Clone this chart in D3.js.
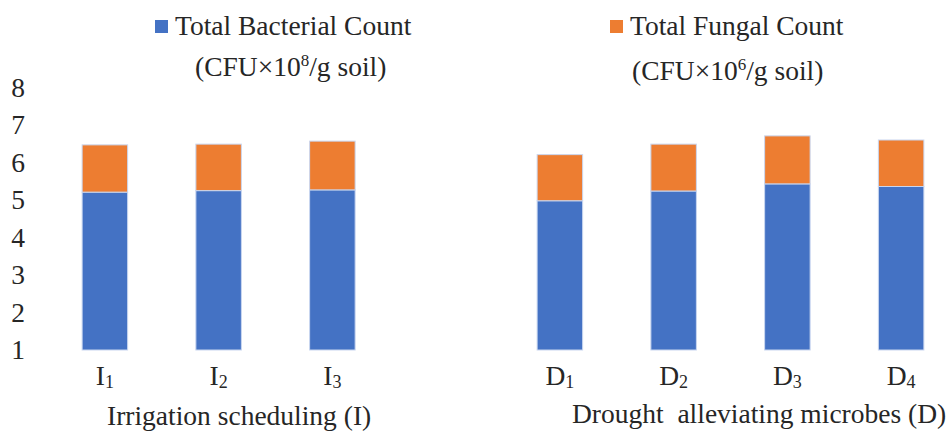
<!DOCTYPE html>
<html>
<head>
<meta charset="utf-8">
<script src="https://cdn.jsdelivr.net/npm/d3@7"></script>
<style>
  body { margin: 0; background: #fff; }
  svg text { font-family: "Liberation Serif", "Times New Roman", serif; fill: #262626; }
</style>
</head>
<body>
<svg id="chart"></svg>
<script>
// treatments (one empty slot between the two groups)
const slots = ["I1", "I2", "I3", "", "D1", "D2", "D3", "D4"];
const treatments = ["I1", "I2", "I3", "D1", "D2", "D3", "D4"];
const bacterial = [5.21, 5.25, 5.27, 4.98, 5.24, 5.43, 5.36];
const fungal = [1.26, 1.24, 1.30, 1.23, 1.25, 1.28, 1.24];
const yTicks = [1, 2, 3, 4, 5, 6, 7, 8];
const seriesNames = ["Total Bacterial Count", "Total Fungal Count"];
const seriesUnits = [["(CFU×10", "8", "/g soil)"], ["(CFU×10", "6", "/g soil)"]];
const groupLabels = ["Irrigation scheduling (I)", "Drought  alleviating microbes (D)"];

const W = 952, H = 433;
const colors = ["#4472C4", "#ED7D31"];
const fs = 27.5;

const svg = d3.select("#chart").attr("width", W).attr("height", H);

let x = d3.scaleBand().domain(slots).range([48, 958]).paddingInner(0.6).paddingOuter(0.3);
let y = d3.scaleLinear().domain([1, 8]).range([350, 87.5]).clamp(true);

let rows = treatments.map((t, i) => ({ name: t, b: bacterial[i], f: fungal[i] }));
let stacked = d3.stack().keys(["b", "f"])(rows);

// bars
svg.append("g").selectAll("g")
    .data(stacked)
    .join("g")
    .attr("fill", (d, i) => colors[i])
    .selectAll("rect")
    .data(d => d)
    .join("rect")
    .attr("x", d => x(d.data.name))
    .attr("width", x.bandwidth())
    .attr("y", d => y(d[1]))
    .attr("height", d => y(d[0]) - y(d[1]))
    .attr("stroke", "#c9d6ef")
    .attr("stroke-width", 1);

// y tick labels
svg.append("g").selectAll("text")
    .data(yTicks)
    .join("text")
    .attr("x", 25)
    .attr("y", d => y(d))
    .attr("dy", "0.34em")
    .attr("text-anchor", "end")
    .style("font-size", fs + "px")
    .text(d => d);

// x tick labels with subscripts
let xl = svg.append("g").selectAll("text")
    .data(treatments)
    .join("text")
    .attr("x", d => x(d) + x.bandwidth() / 2)
    .attr("y", 385)
    .attr("text-anchor", "middle")
    .style("font-size", fs + "px");
xl.append("tspan").text(d => d[0]);
xl.append("tspan").attr("dy", 3).style("font-size", "18px").text(d => d.slice(1));

// group labels
svg.append("text").attr("x", 107).attr("y", 425)
    .style("font-size", fs + "px").style("white-space", "pre")
    .text(groupLabels[0]);
svg.append("text").attr("x", 572).attr("y", 423)
    .style("font-size", fs + "px").style("white-space", "pre")
    .text(groupLabels[1]);

// legend
let legendPos = [{ sx: 155, tx: 175, ux: 195, uy: 76 }, { sx: 610, tx: 630, ux: 632, uy: 80 }];
seriesNames.forEach((name, i) => {
    let p = legendPos[i];
    svg.append("rect").attr("x", p.sx).attr("y", 20).attr("width", 13).attr("height", 13)
        .attr("fill", colors[i]);
    svg.append("text").attr("x", p.tx).attr("y", 35).style("font-size", fs + "px").text(name);
    let u = svg.append("text").attr("x", p.ux).attr("y", p.uy).style("font-size", fs + "px");
    u.append("tspan").text(seriesUnits[i][0]);
    u.append("tspan").attr("dy", -10).style("font-size", "17px").text(seriesUnits[i][1]);
    u.append("tspan").attr("dy", 10).text(seriesUnits[i][2]);
});
</script>
</body>
</html>
